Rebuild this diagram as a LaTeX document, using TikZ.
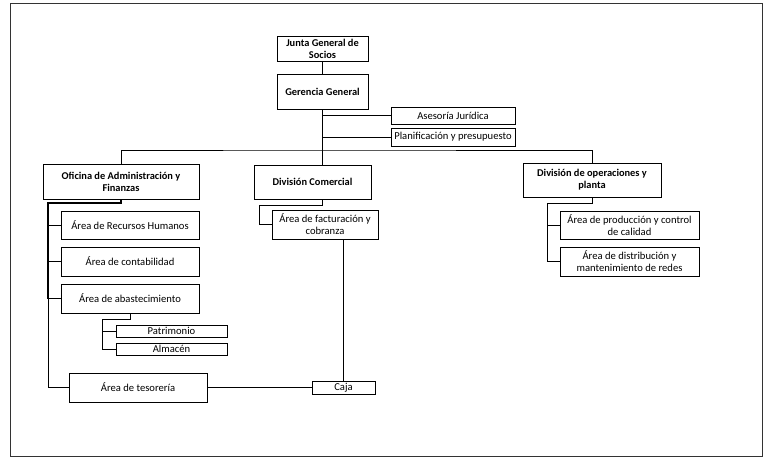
\documentclass[tikz,border=0pt]{standalone}
\usepackage{fontspec}
\setmainfont{Carlito}
\begin{document}
\begin{tikzpicture}[x=1pt,y=-1pt,
  box/.style={draw=black,line width=0.8pt,inner sep=0pt,align=center,font=\fontsize{10.6}{12.2}\selectfont},
  bbox/.style={box,font=\fontsize{10.4}{12.2}\selectfont\bfseries},
  ln/.style={draw=black,line width=0.8pt},
  thk/.style={draw=black,line width=1.8pt}]
\useasboundingbox (0,0) rectangle (774,461);
\draw[line width=0.9pt,draw=black!80] (10,3) rectangle (762,456);
% nodes
\node[bbox,minimum width=91,minimum height=25] (junta) at (322.5,48.5) {Junta General de\\Socios};
\node[bbox,minimum width=91,minimum height=35] (ger) at (322.5,91.5) {Gerencia General};
\node[box,minimum width=124,minimum height=17] (ase) at (453,115.5) {Asesoría Jurídica};
\node[box,minimum width=124,minimum height=18] (plan) at (453,137) {Planificación y presupuesto};
\node[bbox,minimum width=156,minimum height=35] (ofi) at (121,181.5) {Oficina de Administración y\\Finanzas};
\node[bbox,minimum width=117,minimum height=34] (com) at (312.5,182) {División Comercial};
\node[bbox,minimum width=138,minimum height=34] (ope) at (592,180) {División de operaciones y\\planta};
\node[box,minimum width=138,minimum height=28] (rrhh) at (130,225) {Área de Recursos Humanos};
\node[box,minimum width=138,minimum height=29] (cont) at (130,261.5) {Área de contabilidad};
\node[box,minimum width=138,minimum height=29] (abas) at (130,298.5) {Área de abastecimiento};
\node[box,minimum width=111,minimum height=12] (patr) at (171.5,331) {Patrimonio};
\node[box,minimum width=111,minimum height=12] (alm) at (171.5,349) {Almacén};
\node[box,minimum width=138,minimum height=29] (teso) at (138,387.5) {Área de tesorería};
\node[box,minimum width=63,minimum height=13] (caja) at (343.5,387.5) {Caja};
\node[box,minimum width=106,minimum height=29] (fact) at (325,224.5) {Área de facturación y\\cobranza};
\node[box,minimum width=139,minimum height=28] (prod) at (629.5,225) {Área de producción y control\\de calidad};
\node[box,minimum width=139,minimum height=29] (dist) at (629.5,261.5) {Área de distribución y\\mantenimiento de redes};
% coordinates
\coordinate (bus) at (322.5,150);
\coordinate (ofiA) at (121,203);
\coordinate (ofiB) at (48,203);
\coordinate (ofiC) at (48,298.5);
\coordinate (abA) at (130,319);
\coordinate (abB) at (102,319);
\coordinate (comA) at (322.5,205);
\coordinate (comB) at (259,205);
\coordinate (opA) at (592,203);
\coordinate (opB) at (547,203);
% connectors
\draw[ln] (junta.south) -- (ger.north);
\draw[ln] (ger.south) -- (bus);
\draw[ln] (ase.west) -- (ase.west -| ger.south);
\draw[ln] (plan.west) -- (plan.west -| ger.south);
\draw[ln] (ofi.north) |- (bus) -| (ope.north);
\draw[ln] (bus) -- (ger.south |- com.north);
\draw[thk] (ofi.south) -- (ofiA) -- (ofiB) -- (ofiC);
\draw[ln] (ofiC) |- (teso.west);
\draw[ln] (rrhh.west) -- (rrhh.west -| ofiB);
\draw[ln] (cont.west) -- (cont.west -| ofiB);
\draw[ln] (abas.west) -- (ofiC);
\draw[ln] (abas.south) -- (abA) -- (abB) |- (alm.west);
\draw[ln] (patr.west) -- (patr.west -| abB);
\draw[ln] (teso.east) -- (caja.west);
\draw[ln] (ger.south |- com.south) -- (comA) -- (comB) |- (fact.west);
\draw[ln] (caja.north) -- (caja.north |- fact.south);
\draw[ln] (ope.south) -- (opA) -- (opB) |- (dist.west);
\draw[ln] (prod.west) -- (prod.west -| opB);
\end{tikzpicture}
\end{document}
